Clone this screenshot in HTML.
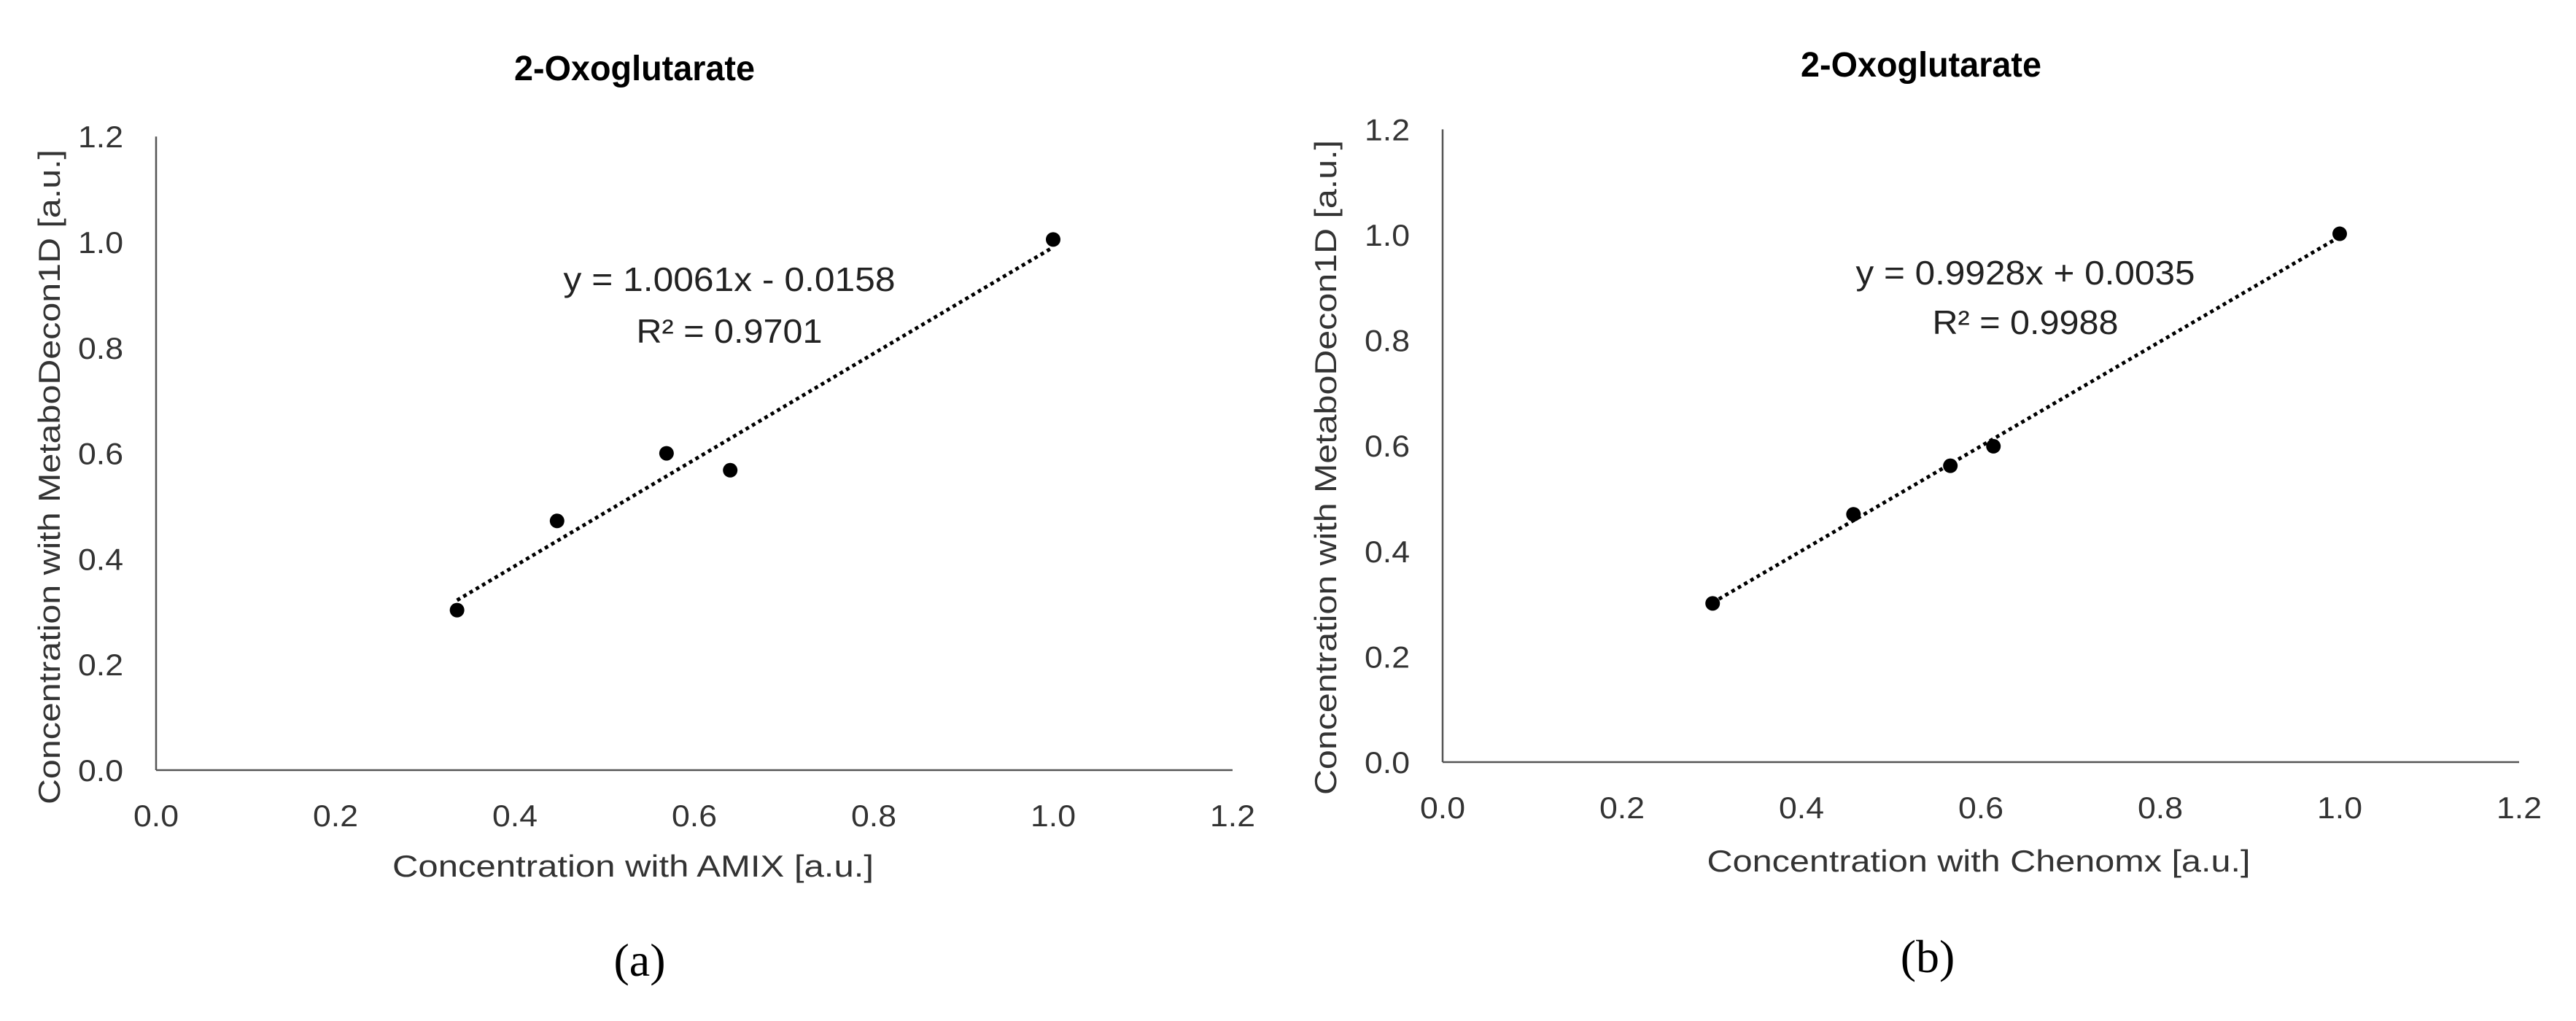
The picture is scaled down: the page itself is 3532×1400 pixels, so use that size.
<!DOCTYPE html>
<html><head><meta charset="utf-8"><style>
html,body{margin:0;padding:0;background:#fff;}
svg{display:block;}
text{font-family:"Liberation Sans",sans-serif;}
</style></head><body>
<svg id="fig" width="3532" height="1400" viewBox="0 0 3532 1400" xmlns="http://www.w3.org/2000/svg"></svg>
<script>
// Panel (a) data: AMIX vs MetaboDecon1D
const xValuesA = [0.3355, 0.447, 0.569, 0.640, 1.0];
const yValuesA = [0.303, 0.472, 0.600, 0.568, 1.005];
const fitA = [1.0061, -0.0158];
// Panel (b) data: Chenomx vs MetaboDecon1D
const xValuesB = [0.301, 0.458, 0.566, 0.614, 1.0];
const yValuesB = [0.301, 0.470, 0.562, 0.599, 1.002];
const fitB = [0.9928, 0.0035];
const tickValues = [0, 0.2, 0.4, 0.6, 0.8, 1.0, 1.2];
const tickLabels = ["0.0","0.2","0.4","0.6","0.8","1.0","1.2"];

const NS = "http://www.w3.org/2000/svg";
const svg = document.getElementById("fig");
function mk(tag, attrs, parent, txt){
  const e = document.createElementNS(NS, tag);
  for (const k in attrs) e.setAttribute(k, attrs[k]);
  if (txt !== undefined) e.textContent = txt;
  (parent || svg).appendChild(e);
  return e;
}

function panel(o){
  const g = mk("g", {});
  
  
  const sx = v => o.x0 + v * o.xs;
  const sy = v => o.y0 - v * o.ys;
  const t = mk("text", {x:o.tx, y:o.ty, "text-anchor":"middle", "font-size":48, "font-weight":"bold", fill:"#000", textLength:o.tlen, lengthAdjust:"spacingAndGlyphs"}, g, "2-Oxoglutarate");
  
  
  const ya = mk("line", {x1:sx(0), y1:sy(0), x2:sx(0), y2:sy(1.2), stroke:"#555", "stroke-width":2.5}, g);
  
  
  const xa = mk("line", {x1:sx(0), y1:sy(0), x2:sx(1.2), y2:sy(0), stroke:"#555", "stroke-width":2.5}, g);
  
  
  tickValues.forEach((v, i) => {
    const yl = mk("text", {x:sx(0) - 45, y:sy(v) + 15, "text-anchor":"end", "font-size":42, fill:"#333", textLength:62, lengthAdjust:"spacingAndGlyphs"}, g, tickLabels[i]);
    
    
    const xl = mk("text", {x:sx(v), y:o.y0 + 77, "text-anchor":"middle", "font-size":42, fill:"#333", textLength:62, lengthAdjust:"spacingAndGlyphs"}, g, tickLabels[i]);
    
    
  });
  const xt = mk("text", {x:o.xtx, y:o.xty, "text-anchor":"middle", "font-size":42, fill:"#333", textLength:o.xtlen, lengthAdjust:"spacingAndGlyphs"}, g, o.xtitle);
  
  
  const ytt = mk("text", {x:0, y:0, "text-anchor":"middle", "font-size":42, fill:"#333", textLength:898, lengthAdjust:"spacingAndGlyphs", transform:`translate(${o.ytx},${o.yty}) rotate(-90)`}, g, "Concentration with MetaboDecon1D [a.u.]");
  
  
  const xmin = Math.min(...o.xs_), xmax = Math.max(...o.xs_);
  const tl = mk("line", {x1:sx(xmin), y1:sy(o.fit[0]*xmin + o.fit[1]), x2:sx(xmax), y2:sy(o.fit[0]*xmax + o.fit[1]), stroke:"#000", "stroke-width":5, "stroke-dasharray":"5 5"}, g);
  
  
  o.xs_.forEach((xv, i) => {
    const c = mk("circle", {cx:sx(xv), cy:sy(o.ys_[i]), r:10, fill:"#000"}, g);
    
    
  });
  const e1 = mk("text", {x:o.ex, y:o.ey1, "text-anchor":"middle", "font-size":46, fill:"#222", textLength:o.elen, lengthAdjust:"spacingAndGlyphs"}, g, o.eq);
  
  
  const e2 = mk("text", {x:o.ex, y:o.ey2, "text-anchor":"middle", "font-size":46, fill:"#222", textLength:o.rlen, lengthAdjust:"spacingAndGlyphs"}, g, o.r2);
  
  
  const pl = mk("text", {x:o.lx, y:o.ly, "text-anchor":"middle", "font-size":64, fill:"#000", style:'font-family:"Liberation Serif",serif'}, g, o.label);
  
  
}

panel({name:"chart-a", x0:214, y0:1056, xs:1230, ys:724, tx:870, ty:110, tlen:330,
  xtitle:"Concentration with AMIX [a.u.]", xtx:868, xty:1202, xtlen:660, ytx:82, yty:654,
  xs_:xValuesA, ys_:yValuesA, fit:fitA, eq:"y = 1.0061x - 0.0158", r2:"R² = 0.9701",
  ex:1000, ey1:399, ey2:470, elen:455, rlen:255, label:"(a)", lx:877, ly:1338});
panel({name:"chart-b", x0:1978, y0:1045, xs:1230, ys:723, tx:2634, ty:105, tlen:330,
  xtitle:"Concentration with Chenomx [a.u.]", xtx:2713, xty:1195, xtlen:745, ytx:1832, yty:641,
  xs_:xValuesB, ys_:yValuesB, fit:fitB, eq:"y = 0.9928x + 0.0035", r2:"R² = 0.9988",
  ex:2777, ey1:390, ey2:458, elen:465, rlen:255, label:"(b)", lx:2643, ly:1333});
</script>
</body></html>
